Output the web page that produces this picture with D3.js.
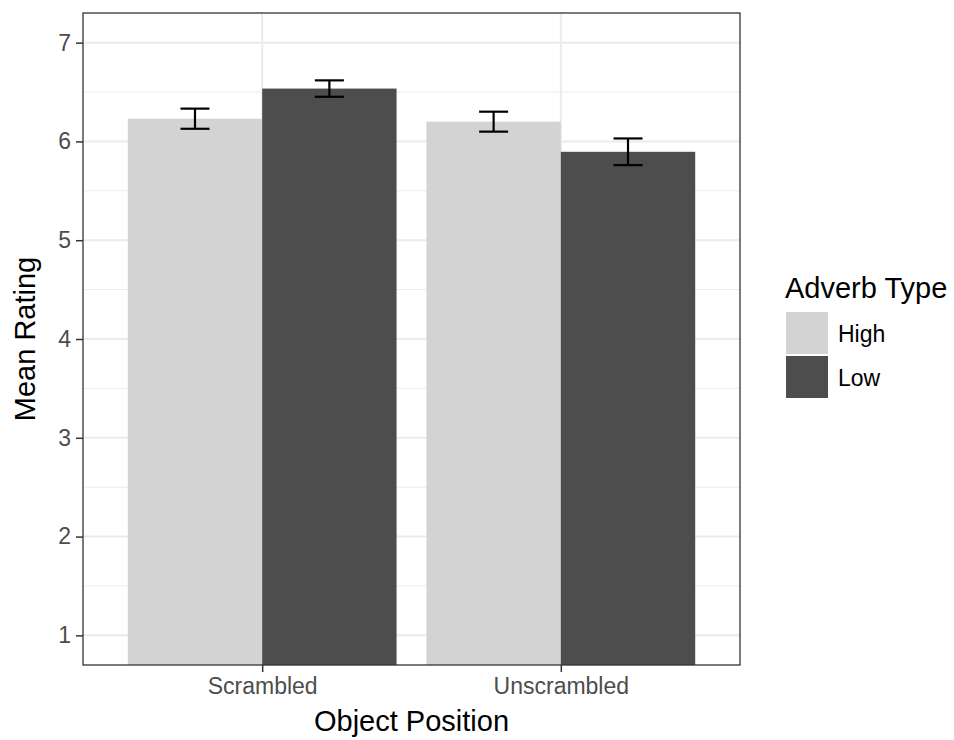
<!DOCTYPE html>
<html lang="en">
<head>
  <meta charset="UTF-8">
  <title>Mean Rating by Object Position</title>
  <script src="https://d3js.org/d3.v7.min.js"></script>
  <style>
    body { margin: 0; background: #fff; }
    text { font-family: "Liberation Sans", Arial, sans-serif; }
  </style>
</head>
<body>
  <svg id="chart" width="954" height="740"></svg>
  <script>
    // data
    const positions = ["Scrambled", "Unscrambled"];
    const adverbTypes = ["High", "Low"];
    const meanRating = {
      Scrambled:   [6.23, 6.535],
      Unscrambled: [6.20, 5.895]
    };
    const stdErr = {
      Scrambled:   [0.102, 0.083],
      Unscrambled: [0.101, 0.135]
    };
    const yTicks = [1, 2, 3, 4, 5, 6, 7];
    const fills = ["#D3D3D3", "#4D4D4D"];

    const rows = [];
    positions.forEach(p => adverbTypes.forEach((a, i) => {
      rows.push({ pos: p, type: a, mean: meanRating[p][i], se: stdErr[p][i] });
    }));

    const svg = d3.select("#chart");
    const panel = { left: 83, top: 13, right: 740, bottom: 665 };

    // ggplot style discrete x: categories at 1,2 with 0.6 expansion
    const xc = d3.scaleLinear().domain([0.4, 2.6]).range([panel.left, panel.right]);
    const catX = d => xc(positions.indexOf(d) + 1);
    const barW = 0.45 * (xc(2) - xc(1));
    const y = d3.scaleLinear().domain([0.7, 7.3]).range([panel.bottom, panel.top]);

    svg.append("defs").append("clipPath").attr("id", "clip")
      .append("rect")
      .attr("x", panel.left).attr("y", panel.top)
      .attr("width", panel.right - panel.left).attr("height", panel.bottom - panel.top);

    const g = svg.append("g");

    // minor grid
    const minor = d3.range(0.5, 7.5, 1).filter(v => v > 0.7 && v < 7.3);
    g.selectAll("line.minor").data(minor).join("line")
      .attr("x1", panel.left).attr("x2", panel.right)
      .attr("y1", d => y(d)).attr("y2", d => y(d))
      .attr("stroke", "#EBEBEB").attr("stroke-width", 1);
    // major grid
    g.selectAll("line.majy").data(yTicks).join("line")
      .attr("x1", panel.left).attr("x2", panel.right)
      .attr("y1", d => y(d)).attr("y2", d => y(d))
      .attr("stroke", "#EBEBEB").attr("stroke-width", 2);
    g.selectAll("line.majx").data(positions).join("line")
      .attr("y1", panel.top).attr("y2", panel.bottom)
      .attr("x1", d => catX(d)).attr("x2", d => catX(d))
      .attr("stroke", "#EBEBEB").attr("stroke-width", 2);

    // bars (clipped to the panel, like coord_cartesian)
    const bars = svg.append("g").attr("clip-path", "url(#clip)");
    bars.selectAll("rect").data(rows).join("rect")
      .attr("x", d => catX(d.pos) + (d.type === "High" ? -barW : 0))
      .attr("width", barW)
      .attr("y", d => y(d.mean))
      .attr("height", d => y(0) - y(d.mean))
      .attr("fill", d => fills[adverbTypes.indexOf(d.type)]);

    // error bars
    const capW = 0.108 * barW * 2;
    const eb = svg.append("g").attr("stroke", "#000").attr("stroke-width", 2.2).attr("fill", "none");
    rows.forEach(d => {
      const cx = catX(d.pos) + (d.type === "High" ? -barW / 2 : barW / 2);
      const y1 = y(d.mean + d.se), y2 = y(d.mean - d.se);
      eb.append("line").attr("x1", cx).attr("x2", cx).attr("y1", y1).attr("y2", y2);
      eb.append("line").attr("x1", cx - capW / 2).attr("x2", cx + capW / 2).attr("y1", y1).attr("y2", y1);
      eb.append("line").attr("x1", cx - capW / 2).attr("x2", cx + capW / 2).attr("y1", y2).attr("y2", y2);
    });

    // panel border
    svg.append("rect")
      .attr("x", panel.left).attr("y", panel.top)
      .attr("width", panel.right - panel.left).attr("height", panel.bottom - panel.top)
      .attr("fill", "none").attr("stroke", "#333").attr("stroke-width", 1.3);

    // y axis
    const yAxis = svg.append("g").attr("transform", `translate(${panel.left},0)`)
      .call(d3.axisLeft(y).tickValues(yTicks).tickSize(7).tickPadding(5).tickFormat(d3.format("d")));
    yAxis.select(".domain").remove();
    yAxis.selectAll(".tick line").attr("stroke", "#333").attr("stroke-width", 1.5);
    yAxis.selectAll(".tick text").attr("fill", "#4D4D4D").style("font-size", "23px")
      .style("font-family", "'Liberation Sans', Arial, sans-serif");

    // x axis
    const xAxis = svg.append("g").attr("transform", `translate(0,${panel.bottom})`)
      .call(d3.axisBottom(d3.scalePoint().domain(positions).range([catX(positions[0]), catX(positions[1])]))
        .tickSize(7).tickPadding(6));
    xAxis.select(".domain").remove();
    xAxis.selectAll(".tick line").attr("stroke", "#333").attr("stroke-width", 1.5);
    xAxis.selectAll(".tick text").attr("fill", "#4D4D4D").style("font-size", "23px")
      .style("font-family", "'Liberation Sans', Arial, sans-serif");

    // axis titles
    svg.append("text")
      .attr("x", (panel.left + panel.right) / 2).attr("y", 731)
      .attr("text-anchor", "middle").style("font-size", "29px")
      .text("Object Position");
    svg.append("text")
      .attr("transform", `translate(35,${(panel.top + panel.bottom) / 2}) rotate(-90)`)
      .attr("text-anchor", "middle").style("font-size", "29px")
      .text("Mean Rating");

    // legend
    const lg = svg.append("g").attr("transform", "translate(785,0)");
    lg.append("text").attr("x", 0).attr("y", 298).style("font-size", "29px").text("Adverb Type");
    const items = lg.selectAll("g.item").data(adverbTypes).join("g")
      .attr("transform", (d, i) => `translate(1,${312 + i * 44})`);
    items.append("rect").attr("width", 42).attr("height", 42)
      .attr("fill", (d, i) => fills[i]);
    items.append("text").attr("x", 52).attr("y", 30).style("font-size", "23px").text(d => d);
  </script>
</body>
</html>
